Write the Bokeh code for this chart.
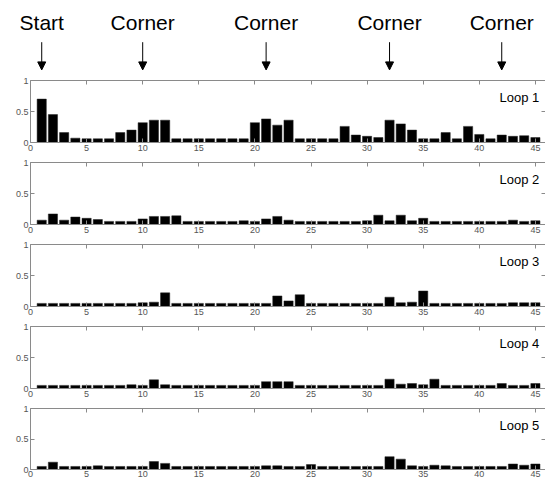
from bokeh.plotting import figure
from bokeh.models import Range1d, LinearAxis, FixedTicker, Label, Arrow, NormalHead
from bokeh.layouts import column
from bokeh.embed import file_html
from bokeh.resources import INLINE

positions = list(range(1, 46))

loop1 = [0.70, 0.45, 0.16, 0.07, 0.06, 0.06, 0.06, 0.16, 0.20, 0.32,
         0.36, 0.36, 0.06, 0.06, 0.06, 0.06, 0.06, 0.06, 0.06, 0.32,
         0.38, 0.28, 0.36, 0.06, 0.06, 0.06, 0.06, 0.26, 0.12, 0.10,
         0.08, 0.36, 0.30, 0.20, 0.06, 0.06, 0.16, 0.06, 0.26, 0.13,
         0.06, 0.12, 0.10, 0.11, 0.08]
loop2 = [0.07, 0.17, 0.07, 0.12, 0.10, 0.08, 0.05, 0.05, 0.05, 0.09,
         0.13, 0.13, 0.14, 0.05, 0.05, 0.05, 0.05, 0.05, 0.06, 0.05,
         0.09, 0.13, 0.07, 0.05, 0.05, 0.05, 0.05, 0.05, 0.05, 0.06,
         0.15, 0.06, 0.15, 0.06, 0.10, 0.05, 0.05, 0.05, 0.05, 0.05,
         0.05, 0.05, 0.07, 0.05, 0.06]
loop3 = [0.05, 0.05, 0.05, 0.05, 0.05, 0.05, 0.05, 0.05, 0.05, 0.06,
         0.07, 0.22, 0.05, 0.05, 0.05, 0.05, 0.05, 0.05, 0.05, 0.05,
         0.05, 0.17, 0.09, 0.19, 0.05, 0.05, 0.05, 0.05, 0.05, 0.05,
         0.05, 0.15, 0.06, 0.07, 0.25, 0.05, 0.05, 0.05, 0.05, 0.05,
         0.05, 0.05, 0.06, 0.06, 0.06]
loop4 = [0.05, 0.05, 0.05, 0.05, 0.05, 0.05, 0.05, 0.05, 0.06, 0.05,
         0.14, 0.06, 0.05, 0.05, 0.05, 0.05, 0.05, 0.05, 0.05, 0.05,
         0.11, 0.11, 0.11, 0.05, 0.05, 0.05, 0.05, 0.05, 0.05, 0.05,
         0.05, 0.15, 0.07, 0.08, 0.06, 0.15, 0.05, 0.05, 0.05, 0.05,
         0.05, 0.08, 0.05, 0.05, 0.08]
loop5 = [0.05, 0.12, 0.05, 0.05, 0.05, 0.06, 0.05, 0.05, 0.05, 0.05,
         0.13, 0.10, 0.05, 0.05, 0.05, 0.05, 0.05, 0.05, 0.05, 0.05,
         0.06, 0.06, 0.05, 0.05, 0.08, 0.05, 0.05, 0.05, 0.05, 0.05,
         0.05, 0.21, 0.17, 0.06, 0.05, 0.07, 0.06, 0.05, 0.05, 0.05,
         0.05, 0.05, 0.09, 0.07, 0.09]

loops = [loop1, loop2, loop3, loop4, loop5]
loop_names = ["Loop 1", "Loop 2", "Loop 3", "Loop 4", "Loop 5"]
x_ticks = [0, 5, 10, 15, 20, 25, 30, 35, 40, 45]
y_ticks = [0, 0.5, 1]
y_tick_labels = {0: "0", 0.5: "0.5", 1: "1"}
marker_x = [1, 10, 21, 32, 42]
marker_labels = ["Start", "Corner", "Corner", "Corner", "Corner"]

FONT = "Liberation Sans"
X_END = 45.9
W = 545
LEFT = 30
PPU = (W - LEFT) / X_END
AXIS_COLOR = "#8a8a8a"
TICK_TEXT = "#555555"
TOP_H = 76

# ---- top annotation strip (frame spans the whole width so nothing is clipped) ----
top = figure(width=W, height=TOP_H, x_range=Range1d(-LEFT / PPU, X_END), y_range=Range1d(0, TOP_H),
             output_backend="svg", toolbar_location=None,
             x_axis_location=None, y_axis_location=None,
             min_border_left=0, min_border_right=0, min_border_top=0, min_border_bottom=0)
top.frame_align = False
top.grid.visible = False
top.outline_line_color = None
for mx, lbl in zip(marker_x, marker_labels):
    top.add_layout(Label(x=mx, y=54.5, text=lbl, text_align="center", text_baseline="middle",
                         text_font=FONT, text_font_size="21px", text_color="black"))
    top.add_layout(Arrow(end=NormalHead(size=8, fill_color="black", line_color="black"),
                         x_start=mx, y_start=34.3, x_end=mx, y_end=6.6,
                         line_color="black", line_width=1))

def style_axis(ax, labels=True, standoff=2):
    ax.axis_line_color = AXIS_COLOR
    ax.major_tick_line_color = AXIS_COLOR
    ax.major_tick_in = 4
    ax.major_tick_out = 0
    ax.minor_tick_line_color = None
    if labels:
        ax.major_label_text_font = FONT
        ax.major_label_text_font_size = "9px"
        ax.major_label_text_color = TICK_TEXT
        ax.major_label_standoff = standoff
    else:
        ax.major_label_text_font_size = "1px"
        ax.major_label_text_color = None
        ax.major_label_standoff = 0

panels = []
n = len(loops)
for i, (vals, name) in enumerate(zip(loops, loop_names)):
    last = i == n - 1
    h = 76 if last else 82
    bb = 11 if last else 16
    p = figure(width=W, height=h, x_range=Range1d(0, X_END), y_range=Range1d(0, 1),
               output_backend="svg", toolbar_location=None,
               min_border_left=LEFT, min_border_right=0, min_border_top=4, min_border_bottom=bb)
    p.vbar(x=positions, top=vals, width=0.82, bottom=0,
           fill_color="black", line_color="#222222", line_width=0.5)
    p.grid.visible = False
    p.outline_line_color = None
    p.xaxis.ticker = FixedTicker(ticks=x_ticks)
    p.yaxis.ticker = FixedTicker(ticks=y_ticks)
    p.yaxis.major_label_overrides = y_tick_labels
    style_axis(p.xaxis[0], standoff=1 if last else 2)
    style_axis(p.yaxis[0])
    ax_top = LinearAxis(ticker=FixedTicker(ticks=x_ticks))
    style_axis(ax_top, labels=False)
    p.add_layout(ax_top, "above")
    ax_right = LinearAxis(ticker=FixedTicker(ticks=y_ticks))
    style_axis(ax_right, labels=False)
    ax_right.axis_line_color = None
    p.add_layout(ax_right, "right")
    p.add_layout(Label(x=45.35, y=0.72, text=name, text_align="right", text_baseline="middle",
                       text_font=FONT, text_font_size="13px", text_color="black"))
    panels.append(p)

layout = column(top, *panels, spacing=0)
open("out.html", "w").write(file_html(layout, INLINE))
